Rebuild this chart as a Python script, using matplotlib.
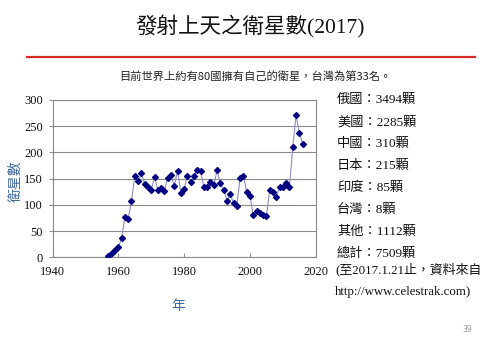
import numpy as np
import matplotlib
matplotlib.use("Agg")
import matplotlib.pyplot as plt

# satellites launched per year
years = list(range(1957, 2017))
counts = [
    2, 8, 14, 19, 37, 76, 73, 107, 155, 145,
    160, 140, 135, 128, 154, 128, 133, 126, 152, 157,
    136, 165, 123, 130, 156, 143, 156, 167, 165, 134,
    135, 144, 137, 166, 141, 129, 108, 121, 103, 98,
    152, 155, 125, 117, 80, 89, 85, 80, 79, 128,
    124, 115, 135, 134, 142, 134, 210, 271, 237, 217,
]

x_ticks = [1940, 1960, 1980, 2000, 2020]
y_ticks = [0, 50, 100, 150, 200, 250, 300]

side_lines = [
    "俄國：3494顆",
    "美國：2285顆",
    "中國：310顆",
    "日本：215顆",
    "印度：85顆",
    "台灣：8顆",
    "其他：1112顆",
    "總計：7509顆",
]
source_lines = ["(至2017.1.21止，資料來自", "http://www.celestrak.com)"]

title = "發射上天之衛星數(2017)"
subtitle = "目前世界上約有80國擁有自己的衛星，台灣為第33名。"

serif = ["Liberation Serif", "Noto Sans CJK TC"]
sans = ["Noto Sans CJK TC", "DejaVu Sans"]
label_blue = "#3f6aa0"

W, H = 500, 346
fig = plt.figure(figsize=(W / 100, H / 100), dpi=100)
fig.patch.set_facecolor("white")


def fx(px):
    return px / W


def fy(py):
    return 1 - py / H


fig.text(0.5, fy(26), title, ha="center", va="center", fontsize=15.5,
         family=serif, color="#111111")
fig.add_artist(plt.Line2D([fx(27), fx(475)], [fy(57), fy(57)],
                          color="#d62a25", lw=1.6))
fig.text(fx(255), fy(76), subtitle, ha="center", va="center", fontsize=8.1,
         family=sans, color="#222222")

ax = fig.add_axes([fx(52.5), fy(257.3), fx(263.3), 157.3 / H])
ax.plot(years, counts, color="#8c8cc8", lw=0.8, marker="D", ms=3.0,
        mfc="#000080", mec="#000080", zorder=3)
ax.set_xlim(1940, 2020)
ax.set_ylim(0, 300)
ax.set_xticks(x_ticks)
ax.set_yticks(y_ticks)
ax.yaxis.grid(True, color="#8a8a8a", lw=0.8)
ax.set_axisbelow(True)
for s in ax.spines.values():
    s.set_color("#8a8a8a")
    s.set_linewidth(0.8)
ax.tick_params(axis="x", direction="in", length=3, color="#8a8a8a", pad=6)
ax.tick_params(axis="y", direction="out", length=3, color="#8a8a8a", pad=4)
for lab in ax.get_xticklabels() + ax.get_yticklabels():
    lab.set_family(serif)
    lab.set_fontsize(9)
    lab.set_color("#111111")

fig.text(fx(15), fy(181), "衛星數", ha="center", va="center", rotation=90,
         fontsize=10, family=sans, color=label_blue)
fig.text(fx(178), fy(306), "年", ha="center", va="center",
         fontsize=10, family=sans, color=label_blue)

for i, line in enumerate(side_lines):
    fig.text(fx(337), fy(100 + 22 * i), line, ha="left", va="center",
             fontsize=9.5, family=serif, color="#111111")
for i, line in enumerate(source_lines):
    fig.text(fx(335), fy(269 + 23 * i), line, ha="left", va="center",
             fontsize=9.3, family=serif, color="#111111")

fig.text(fx(467), fy(330), "39", ha="center", va="center", fontsize=5.5,
         color="#999999")

fig.savefig("out.png", dpi=100, facecolor="white")
